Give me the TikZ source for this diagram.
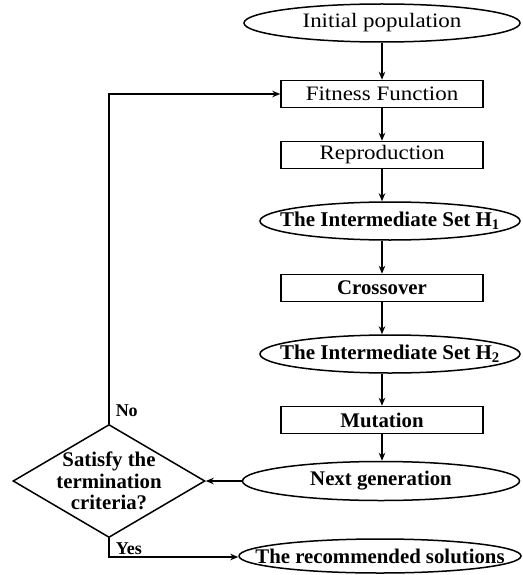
\documentclass[tikz,border=0pt]{standalone}
\usepackage{fontspec}
\setmainfont{Liberation Serif}
\newfontfamily\regfont[FakeStretch=1.12]{Liberation Serif}
\usetikzlibrary{shapes.geometric,arrows.meta}
\begin{document}
\begin{tikzpicture}[x=1pt,y=1pt,
  line width=1.5pt,
  reg/.style={font=\regfont\fontsize{20.5}{22}\selectfont},
  bld/.style={font=\bfseries\fontsize{20.8}{21.5}\selectfont},
  bldh/.style={font=\bfseries\fontsize{21}{21}\selectfont},
  boxn/.style={draw,rectangle,minimum width=202pt,minimum height=27pt,inner sep=0pt},
  elln/.style={draw,ellipse,inner xsep=-60pt,inner ysep=0pt},
  arr/.style={-{Stealth[length=8pt,width=6.5pt]}},
  lbl/.style={font=\bfseries\fontsize{18}{18}\selectfont,inner sep=0pt,anchor=base west}]
\useasboundingbox (0,0) rectangle (522,-575);
\node[elln,reg,minimum width=276pt,minimum height=38pt] (init) at (382,-23) {Initial population};
\node[boxn,reg] (fit) at (382,-94) {Fitness Function};
\node[boxn,reg] (rep) at (382,-155) {Reproduction};
\node[elln,bldh,minimum width=260pt,minimum height=38pt] (h1) at (390,-221) {The Intermediate Set H\textsubscript{1}};
\node[boxn,bld] (cross) at (382,-288) {Crossover};
\node[elln,bldh,minimum width=260pt,minimum height=38pt] (h2) at (390,-354) {The Intermediate Set H\textsubscript{2}};
\node[boxn,bld] (mut) at (382,-420) {Mutation};
\node[elln,bld,minimum width=277pt,minimum height=39pt] (next) at (381,-481) {Next generation};
\node[elln,bld,minimum width=282pt,minimum height=34pt] (rec) at (380,-556) {The recommended solutions};
\node[draw,diamond,bld,aspect=1.7,inner xsep=-10pt,inner ysep=-6pt,minimum width=192pt,minimum height=113pt,align=center] (dia) at (109,-481) {Satisfy the\\termination\\criteria?};
\coordinate (ncorner) at (109,-94);
\coordinate (ycorner) at (109,-557);
\draw[arr] (init) -- (fit);
\draw[arr] (fit) -- (rep);
\draw[arr] (rep) -- (rep |- h1.north);
\draw[arr] (rep |- h1.south) -- (cross);
\draw[arr] (cross) -- (cross |- h2.north);
\draw[arr] (cross |- h2.south) -- (mut);
\draw[arr] (mut) -- (mut |- next.north);
\draw[arr] (next) -- (dia);
\draw[arr] (dia.north) -- (ncorner) -- (fit.west);
\draw[arr] (dia.south) -- (ycorner) -- (ycorner -| rec.west);
\node[lbl] (no) at (115,-416) {No};
\node[lbl] (yes) at (115,-554) {Yes};
\end{tikzpicture}
\end{document}
